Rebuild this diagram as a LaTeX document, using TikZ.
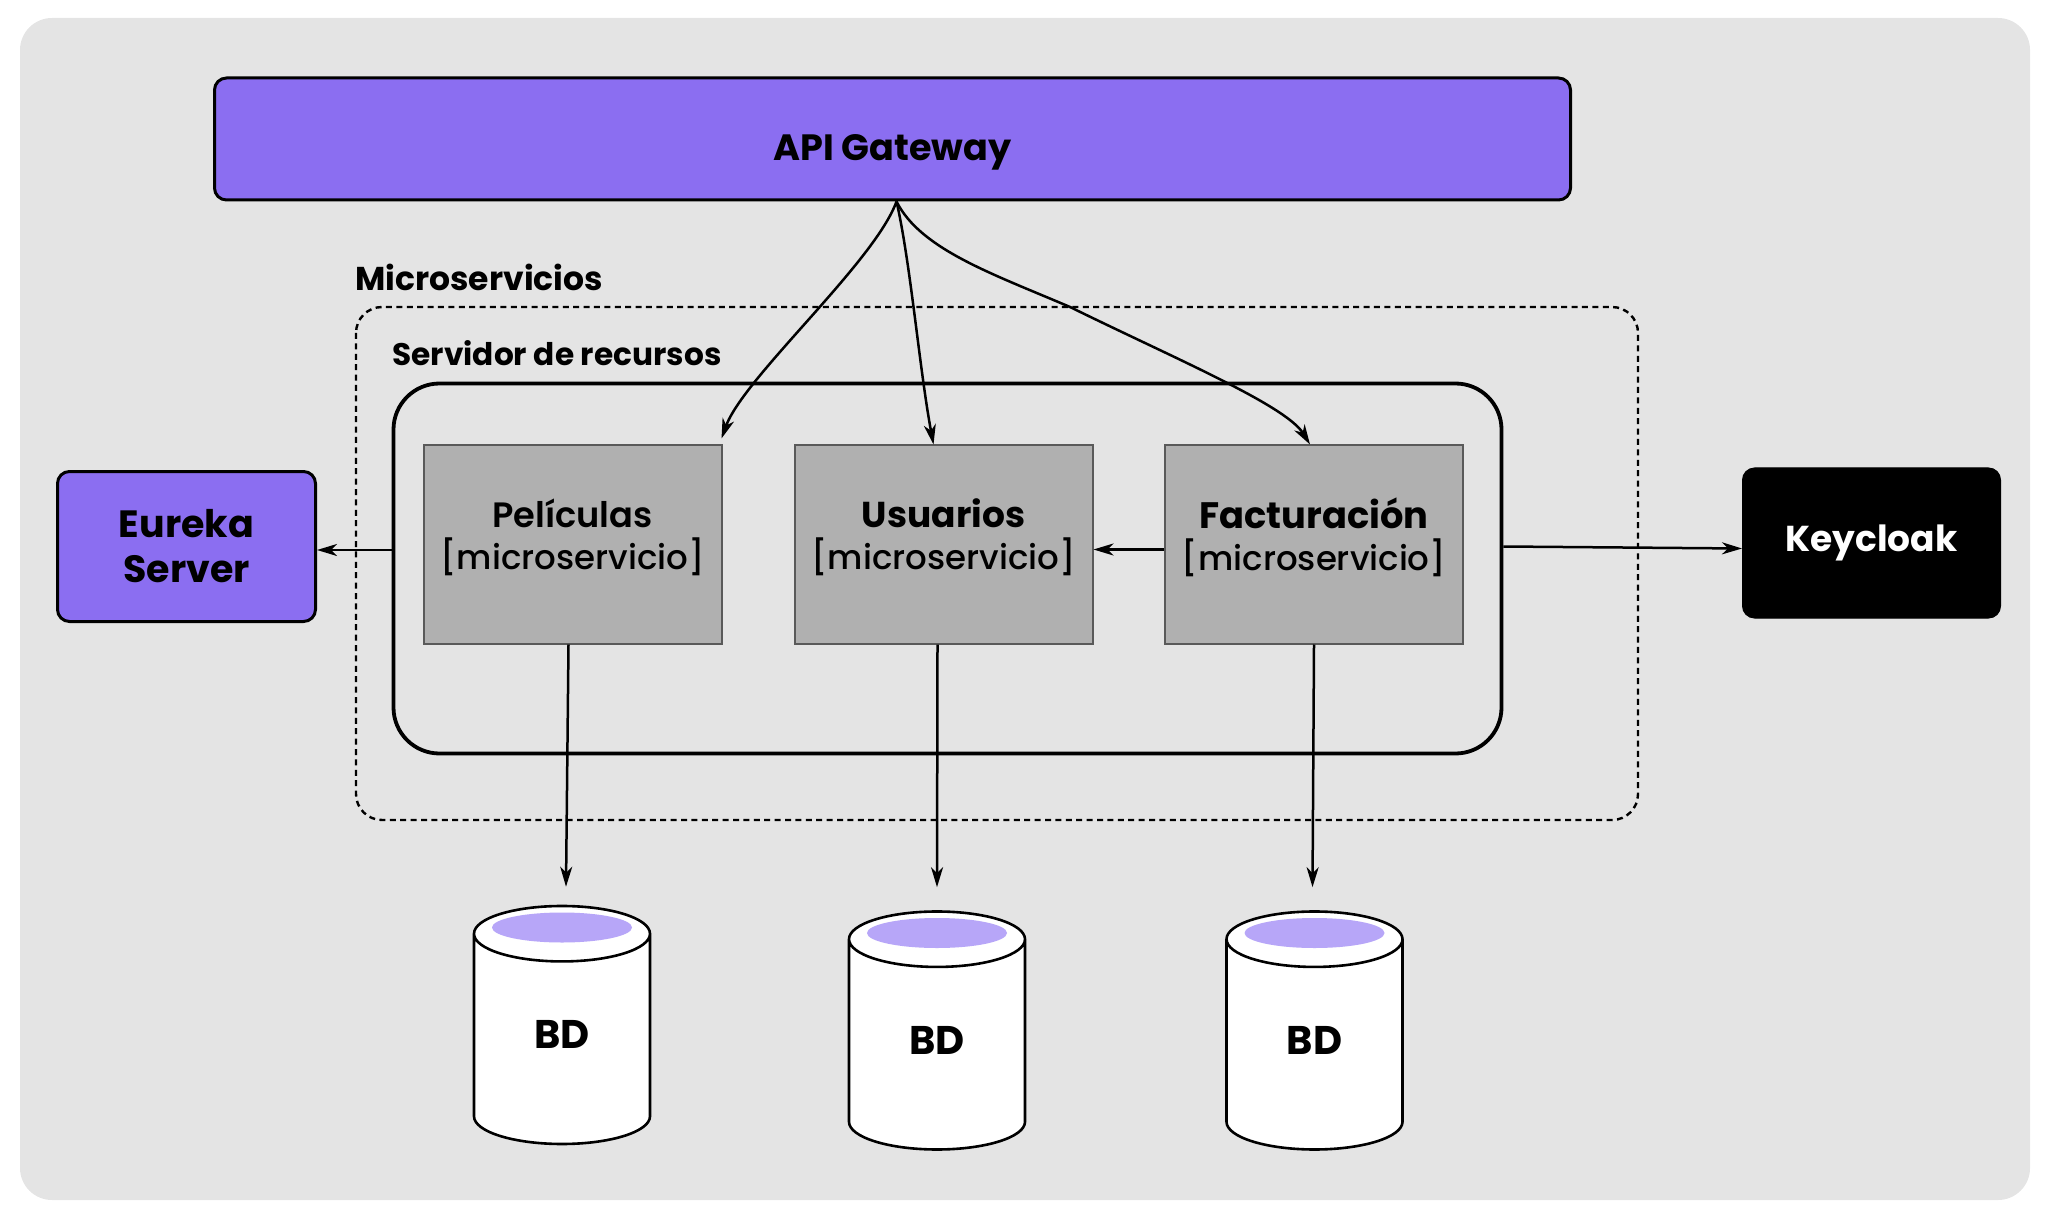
\documentclass[tikz,border=0pt]{standalone}
\usepackage{fontspec}
\setmainfont{Poppins}[UprightFont={* Medium},BoldFont={* Bold}]
\newfontfamily\semifont{Poppins SemiBold}
\usetikzlibrary{arrows.meta}
\usetikzlibrary{shapes.geometric}
\definecolor{fondo}{HTML}{E4E4E4}
\definecolor{violeta}{HTML}{8B6EF1}
\definecolor{lila}{HTML}{B7A6F8}
\definecolor{gris}{HTML}{B0B0B0}
\tikzset{
    flecha/.style={-{Stealth[length=10pt, width=6pt, inset=3pt]}, line width=1.25pt},
    caja/.style={draw, line width=1.5pt, fill=violeta, rounded corners=6pt, align=center, font=\fontsize{19}{22.5}\selectfont\bfseries},
    micro/.style={draw=black!65, line width=1pt, fill=gris, minimum width=149pt, minimum height=99pt, align=center, font=\fontsize{17}{21}\selectfont},
    base/.style={cylinder, shape border rotate=90, aspect=1, draw, line width=1.3pt, cylinder uses custom fill, cylinder body fill=white, cylinder end fill=white, minimum width=88pt, minimum height=119pt, inner sep=0pt, font=\fontsize{20}{24}\selectfont\bfseries},
    titulo/.style={anchor=west, inner sep=0pt, font=\fontsize{16.5}{20}\selectfont\bfseries}
}
\begin{document}
\begin{tikzpicture}[x=0.5pt, y=-0.5pt]
    \useasboundingbox (0,0) rectangle (2048,1229);
    % Background
    \fill[fondo, rounded corners=16pt] (20,18) rectangle (2030,1200);
    % Gateway
    \node[caja, font=\fontsize{18.3}{22}\selectfont\bfseries, minimum width=678pt, minimum height=61pt] (api) at (892.5,139) {\raisebox{-11pt}[0pt][0pt]{API Gateway}};
    % Groups
    \draw[dashed, dash pattern=on 3pt off 2.2pt, line width=1.2pt, rounded corners=13pt] (356,307) rectangle (1638,820);
    \node[titulo] (lblmicro) at (355,277) {Microservicios};
    \node[titulo, font=\fontsize{15.6}{18}\selectfont\bfseries] (lblsrv) at (392,353) {Servidor de recursos};
    \node[draw, line width=1.9pt, rounded corners=23pt, minimum width=554pt, minimum height=185pt] (srv) at (947.5,568.5) {};
    % Services
    \node[micro] (pel) at (572.5,544.5) {{\semifont\fontsize{17.6}{21}\selectfont Películas}\\{[microservicio]}\rule[-10pt]{0pt}{0pt}};
    \node[micro] (usu) at (943.5,544.5) {{\fontsize{18}{21}\selectfont\bfseries Usuarios}\\{[microservicio]}\rule[-10pt]{0pt}{0pt}};
    \node[micro] (fac) at (1314,544.5) {{\fontsize{18.4}{21}\selectfont\bfseries Facturación}\\{[microservicio]}\rule[-10pt]{0pt}{0pt}};
    % Side boxes
    \node[caja] [minimum width=129pt, minimum height=75pt] (eur) at (186.5,546.5) {Eureka\\Server};
    \node[caja, font=\fontsize{18}{22}\selectfont\bfseries, draw=black, line width=0.5pt, fill=black, text=white, minimum width=129pt, minimum height=75pt] (kc) at (1871.5,543) {Keycloak};
    % Databases
    \foreach \n/\x/\y in {dbp/562/1039.5, dbu/937/1045, dbf/1314.5/1045}{
        \node[base] (\n) at (\x,\y) {\rule[-5pt]{0pt}{0pt}BD};
        \fill[lila] (\x,\y-112) ellipse (70 and 15);
    }
    % Gateway arrows
    \coordinate (apiout) at ([xshift=2pt]api.south);
    \draw[flecha] (apiout) .. controls +(-22,61) and +(22,-61) .. ([xshift=-0.5pt,yshift=3pt]pel.north east);
    \draw[flecha] (apiout) .. controls +(14,61) and +(-14,-75) .. ([xshift=-5pt]usu.north);
    \coordinate (apimid) at (1070,307);
    \draw[flecha] (apiout) .. controls +(24,48) and +(-77,-33) .. (apimid) .. controls +(106,52) and +(-24,-39) .. ([xshift=-2pt]fac.north);
    % Side arrows
    \draw[flecha] ([yshift=9.25pt]srv.west) -- ([yshift=-1.75pt]eur.east);
    \draw[flecha] ([yshift=-2.5pt]fac.west) -- ([yshift=-2.5pt]usu.east);
    \draw[flecha] ([yshift=11pt]srv.east) -- ([yshift=-2.75pt]kc.west);
    % Database arrows
    \draw[flecha] ([xshift=-2pt]pel.south) -- ([xshift=2pt,yshift=9pt]dbp.north);
    \draw[flecha] ([xshift=-3pt]usu.south) -- ([yshift=11.5pt]dbu.north);
    \draw[flecha] (fac.south) -- ([xshift=-1pt,yshift=11.5pt]dbf.north);
\end{tikzpicture}
\end{document}
